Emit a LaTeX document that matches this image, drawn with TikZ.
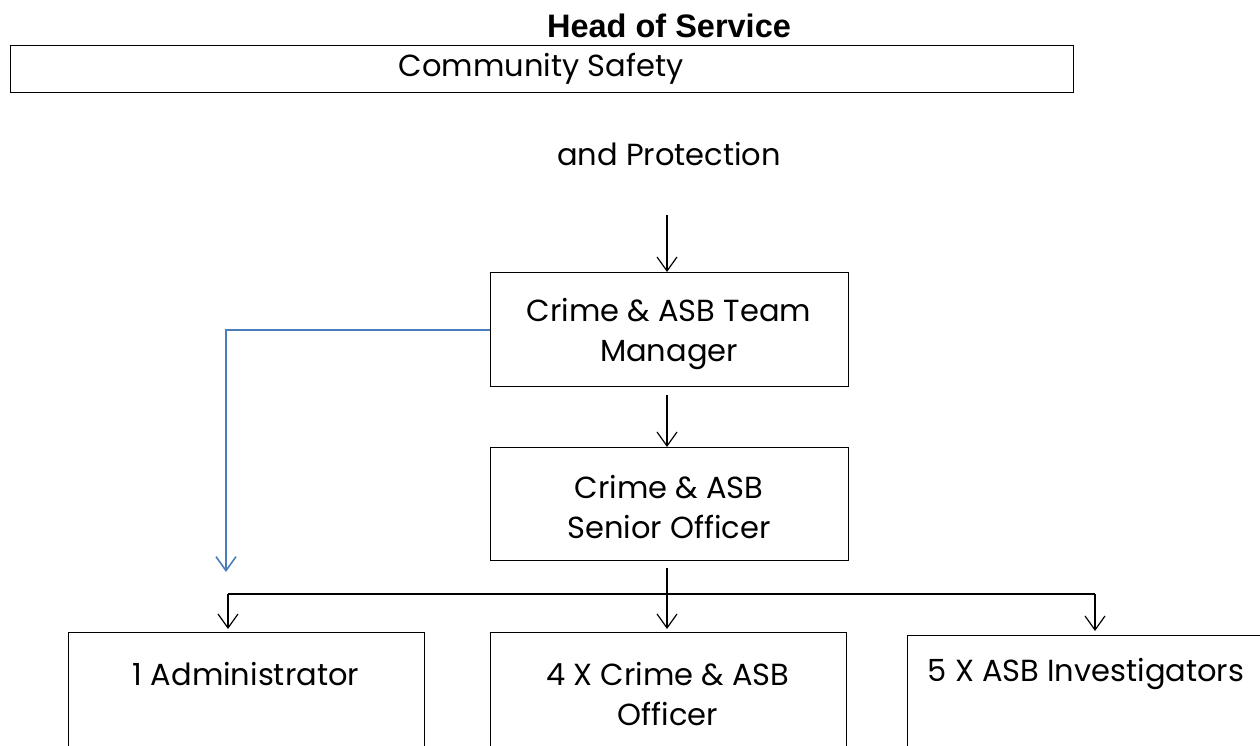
\documentclass[tikz,border=0pt]{standalone}
\usepackage{fontspec}
\setmainfont{Poppins}
\newfontfamily\headfont{Liberation Sans}
\usetikzlibrary{arrows.meta}
\definecolor{linkblue}{HTML}{4A7EBB}
\tikzset{
  x=1pt, y=-1pt,
  box/.style={draw, line width=1.2pt, inner sep=0pt},
  lbl/.style={font=\fontsize{30.5}{40}\selectfont, align=center, inner sep=0pt},
  conn/.style={line width=1.2pt, -{Straight Barb[length=14pt,width=20pt,line width=1.2pt]}},
  blueconn/.style={draw=linkblue, line width=1.8pt, -{Straight Barb[length=14pt,width=20pt,line width=1.6pt,color=linkblue]}},
}
\begin{document}
\begin{tikzpicture}
\useasboundingbox (0,0) rectangle (1260,745);
\clip (0,0) rectangle (1260,745);
% top
\node[font=\headfont\bfseries\fontsize{32.5}{36}\selectfont, inner sep=0pt] (head) at (669,26) {Head of Service};
\node[box, minimum width=1063, minimum height=47, anchor=north west] (cs) at (10,45) {};
\node[lbl] (cstext) at (541,69) {Community Safety};
\node[lbl] (prot) at (669,154) {and Protection};
\coordinate (protbot) at (667,215);
% boxes
\node[box, minimum width=358, minimum height=114, anchor=north west] (mgr) at (490,272) {};
\node[lbl] (mgrtext) at (669,334) {Crime \& ASB Team\\Manager};
\node[box, minimum width=358, minimum height=113, anchor=north west] (sen) at (490,447) {};
\node[lbl] (sentext) at (669,507) {Crime \& ASB\\Senior Officer};
\node[box, minimum width=356, minimum height=160, anchor=north west] (adm) at (68,632) {};
\node[lbl] (admtext) at (246,674) {1 Administrator};
\node[box, minimum width=356, minimum height=160, anchor=north west] (off) at (490,632) {};
\node[lbl] (offtext) at (668,694) {4 X Crime \& ASB\\Officer};
\node[box, minimum width=356, minimum height=160, anchor=north west] (inv) at (907,635) {};
\node[lbl] (invtext) at (1086,674) {5 X ASB Investigators};
% connectors
\draw[conn] (protbot) -- (mgr.north -| protbot);
\draw[conn] (667,395) -- (sen.north -| protbot);
\coordinate (bluetip) at (226,572);
\draw[blueconn] (mgr.west |- 0,330) -| (bluetip);
\coordinate (barL) at (228,594);
\coordinate (barR) at (1095,594);
\draw[line width=1.2pt] (667,568) -- (667,594);
\draw[line width=2.2pt] (barL) -- (barR);
\draw[conn] (barL) -- (228,629);
\draw[conn] (667,594) -- (667,629);
\draw[conn] (barR) -- (1095,631);
\end{tikzpicture}
\end{document}
